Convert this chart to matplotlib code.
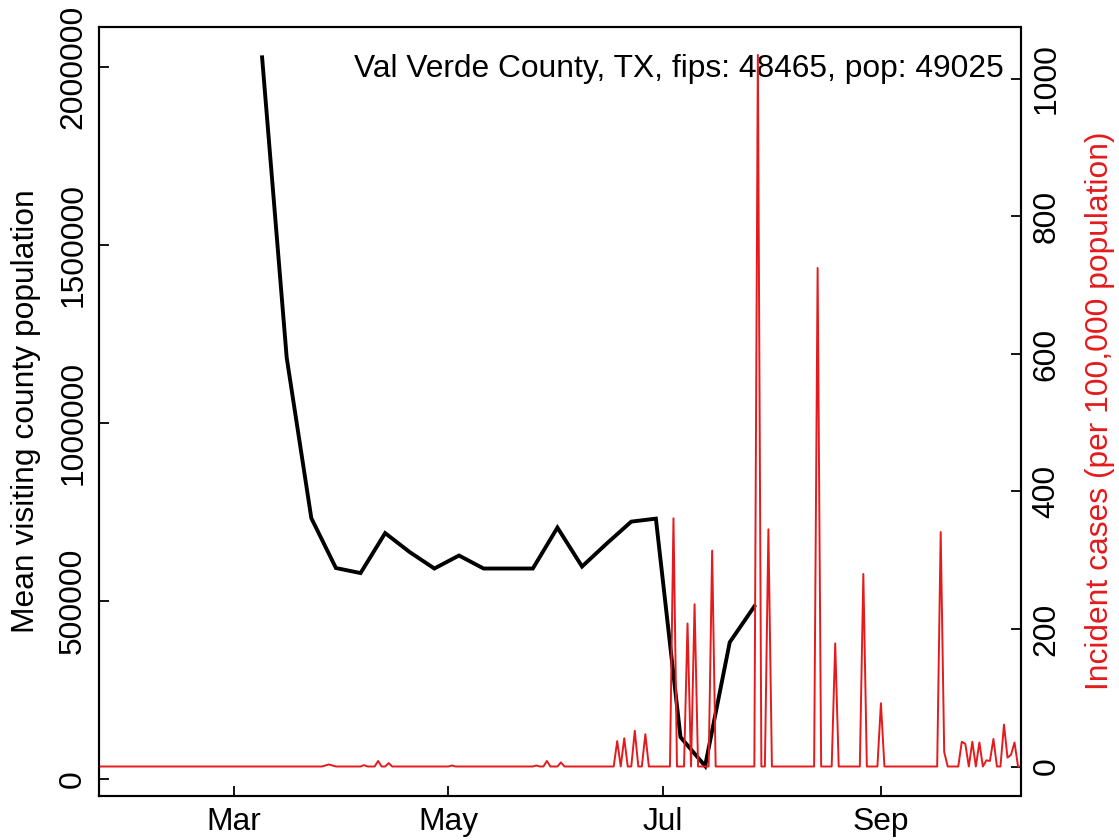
import numpy as np
import pandas as pd
import matplotlib
matplotlib.use('Agg')
import matplotlib.pyplot as plt
import matplotlib.dates as mdates
from matplotlib.ticker import FixedLocator

plt.rcParams['font.family'] = ['Liberation Sans', 'DejaVu Sans']

# ── Data ─────────────────────────────────────────────────────────────────────
# weekly mean visiting county population (black)
visit_dates = ['2020-03-09', '2020-03-16', '2020-03-23', '2020-03-30', '2020-04-06',
               '2020-04-13', '2020-04-20', '2020-04-27', '2020-05-04', '2020-05-11',
               '2020-05-18', '2020-05-25', '2020-06-01', '2020-06-08', '2020-06-15',
               '2020-06-22', '2020-06-29', '2020-07-06', '2020-07-13', '2020-07-20',
               '2020-07-27']
visit_pop = [2026600, 1182900, 732500, 592400, 578200,
             690500, 637000, 591000, 627500, 591000,
             591000, 591000, 705900, 596600, 661000,
             722700, 731100, 117600, 36400, 383800,
             484600]

# daily incident cases per 100,000 (red); days not listed are zero
case_start, case_end = '2020-01-22', '2020-10-11'
case_dates = ['2020-03-27', '2020-03-28', '2020-03-29', '2020-04-07', '2020-04-11',
              '2020-04-14', '2020-05-02', '2020-05-26', '2020-05-29', '2020-06-02',
              '2020-06-18', '2020-06-20', '2020-06-23', '2020-06-26', '2020-07-04',
              '2020-07-08', '2020-07-10', '2020-07-15', '2020-07-28', '2020-07-31',
              '2020-08-14', '2020-08-19', '2020-08-27', '2020-09-01', '2020-09-18',
              '2020-09-19', '2020-09-24', '2020-09-25', '2020-09-27', '2020-09-29',
              '2020-10-01', '2020-10-02', '2020-10-03', '2020-10-06', '2020-10-07',
              '2020-10-08', '2020-10-09']
case_vals = [1.5, 3, 1.5, 2, 8,
             5, 1.5, 1.5, 8, 6,
             37, 41, 52, 47, 361,
             208, 236, 314, 1035, 345,
             725, 179, 280, 92, 341,
             21, 36, 33, 36, 35,
             9, 8, 40, 61, 13,
             17, 35]

title = 'Val Verde County, TX, fips: 48465, pop: 49025'
left_ticks = [0, 500000, 1000000, 1500000, 2000000]
right_ticks = [0, 200, 400, 600, 800, 1000]
month_ticks = ['2020-03-01', '2020-05-01', '2020-07-01', '2020-09-01']
month_labels = ['Mar', 'May', 'Jul', 'Sep']

# ── Series ───────────────────────────────────────────────────────────────────
visits = pd.Series(visit_pop, index=pd.to_datetime(visit_dates))
cases = pd.Series(case_vals, index=pd.to_datetime(case_dates))
cases = cases.reindex(pd.date_range(case_start, case_end, freq='D'), fill_value=0)

RED = '#E41A1C'
FS = 22.9

# ── Plot ─────────────────────────────────────────────────────────────────────
fig = plt.figure(figsize=(11.19, 8.4), dpi=100)
ax = fig.add_axes([99.3 / 1119, 44 / 840, 921.2 / 1119, 769.3 / 840])
ax.plot(visits.index, visits.values, color='black', lw=2.8, solid_joinstyle='miter')
ax.set_ylim(-47840, 2112600)
ax.yaxis.set_major_locator(FixedLocator(left_ticks))
ax.set_yticklabels([str(v) for v in left_ticks])

ax2 = ax.twinx()
ax2.plot(cases.index, cases.values, color=RED, lw=1.4)
ax2.set_ylim(-42.9, 1076)
ax2.yaxis.set_major_locator(FixedLocator(right_ticks))
ax2.set_yticklabels([str(v) for v in right_ticks])

mar1 = pd.Timestamp('2020-03-01')
ax.set_xlim(mar1 - pd.Timedelta(days=38.3), mar1 + pd.Timedelta(days=223.7))
ax.set_xticks(pd.to_datetime(month_ticks))
ax.set_xticklabels(month_labels)

for a in (ax, ax2):
    a.tick_params(direction='in', length=7, width=1.3, labelsize=FS, pad=8)
    for sp in a.spines.values():
        sp.set_linewidth(1.5)
for lab in ax.get_yticklabels() + ax2.get_yticklabels():
    lab.set_rotation(90)
    lab.set_va('center')

ax.text(0.982, 0.9346, title, transform=ax.transAxes, ha='right', va='baseline',
        fontsize=FS)

fig.text(26 / 1119, 0.511, 'Mean visiting county population', rotation=90,
         ha='center', va='center', fontsize=FS)
fig.text(1100 / 1119, 0.511, 'Incident cases (per 100,000 population)', rotation=90,
         ha='center', va='center', fontsize=FS, color=RED)

fig.savefig('out.png', dpi=100)
